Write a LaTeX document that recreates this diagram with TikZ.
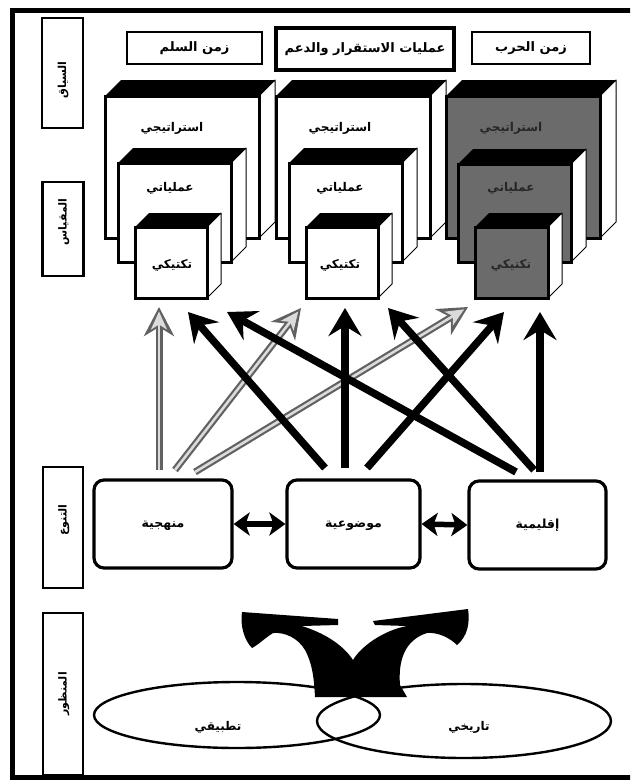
\documentclass[tikz,border=0pt]{standalone}
\usepackage{fontspec}
\usetikzlibrary{arrows.meta,shapes.geometric,calc}
\TeXXeTstate=1
\newfontfamily\arabicfont[Script=Arabic]{DejaVu Sans}
\newcommand\ar[1]{\arabicfont\bfseries\beginR #1\endR}
\newcommand\cubedraw[6]{%
  \fill[black] (#1,#2) -- (#3,#2) -- ([shift={(#5,-#5)}]#3,#2) -- ([shift={(#5,-#5)}]#1,#2) -- cycle;
  \draw[fill=white, line width=1pt, line join=round] (#3,#2) -- ([shift={(#5,-#5)}]#3,#2) -- ([shift={(#5,-#5)}]#3,#4) -- (#3,#4) -- cycle;
  \draw[fill=#6, line width=3pt] (#1,#2) rectangle (#3,#4);
}
\tikzset{
  sidebox/.style={draw, line width=2.8pt, inner sep=0pt},
  headbox/.style={draw, line width=2.8pt, inner sep=0pt, text height=7pt, text depth=0pt, font=\fontsize{13}{15}\selectfont},
  cubetext/.style={font=\fontsize{12}{14}\selectfont, text height=7pt, text depth=0pt, inner sep=0pt},
  midbox/.style={draw, line width=3.2pt, rounded corners=10pt, inner sep=0pt, text height=7pt, text depth=0pt, font=\fontsize{12.5}{14}\selectfont},
  blackarrow/.style={line width=7.5pt, -{Stealth[length=28pt,width=33pt,inset=10pt]}},
  grayouter/.style={line width=7pt, black!62, -{Stealth[length=29pt,width=30pt,inset=9pt]}},
  grayinner/.style={line width=2.6pt, gray!28, shorten >=4.5pt, -{Stealth[length=18pt,width=16pt,inset=5pt]}},
  dblarrow/.style={line width=5.5pt, {Stealth[length=16pt,width=23pt,inset=4pt]}-{Stealth[length=16pt,width=23pt,inset=4pt]}},
  ell/.style={ellipse, draw, line width=2.4pt, inner sep=0pt},
  lbl/.style={font=\fontsize{11}{13}\selectfont, text height=7pt, text depth=0pt, inner sep=0pt, rotate=90},
}
\begin{document}
\begin{tikzpicture}[x=1pt, y=-1pt]
\useasboundingbox (0,0) rectangle (630,782);
\clip (0,0) rectangle (630,782);
\fill[white] (0,0) rectangle (630,782);
% frame
\draw[line width=5pt] (12,10) rectangle (640,777);

% side label boxes
\node[sidebox, minimum width=41pt, minimum height=110pt] (s1) at (62.5,73) {};
\node[lbl] (s1t) at (62.5,80) {\ar{السياق}};
\node[sidebox, minimum width=41pt, minimum height=94pt] (s2) at (63,229) {};
\node[lbl] (s2t) at (63,222) {\ar{المقياس}};
\node[sidebox, minimum width=40pt, minimum height=121pt] (s3) at (63,527.5) {};
\node[lbl] (s3t) at (63,520) {\ar{التنوع}};
\node[sidebox, minimum width=40pt, minimum height=162pt] (s4) at (63,694) {};
\node[lbl] (s4t) at (63,694) {\ar{المنظور}};

% header boxes
\node[headbox, minimum width=135pt, minimum height=32pt] (h1) at (194.5,48) {\ar{زمن السلم}};
\node[headbox, line width=3.6pt, minimum width=178pt, minimum height=42pt] (h2) at (365,49) {\ar{عمليات الاستقرار والدعم}};
\node[headbox, minimum width=118pt, minimum height=32pt] (h3) at (531,48) {\ar{زمن الحرب}};

% cubes column 1
\cubedraw{105}{96}{259}{238}{16}{white}
\node[cubetext] (c1a) at (172,128) {\ar{استراتيجي}};
\cubedraw{118}{163}{231}{262}{15}{white}
\node[cubetext] (c1b) at (170,188) {\ar{عملياتي}};
\cubedraw{135}{227}{207}{298}{14}{white}
\node[cubetext] (c1c) at (172,265) {\ar{تكتيكي}};
% cubes column 2
\cubedraw{276}{96}{430}{238}{16}{white}
\node[cubetext] (c2a) at (340,128) {\ar{استراتيجي}};
\cubedraw{289}{163}{402}{262}{15}{white}
\node[cubetext] (c2b) at (340,188) {\ar{عملياتي}};
\cubedraw{306}{227}{378}{298}{14}{white}
\node[cubetext] (c2c) at (340,265) {\ar{تكتيكي}};
% cubes column 3
\cubedraw{446}{96}{600}{238}{16}{black!58}
\node[cubetext, text=black!85] (c3a) at (511,128) {\ar{استراتيجي}};
\cubedraw{458}{164}{571}{262}{15}{black!58}
\node[cubetext, text=black!85] (c3b) at (511,188) {\ar{عملياتي}};
\cubedraw{475}{227}{548}{298}{14}{black!58}
\node[cubetext, text=black!85] (c3c) at (511,265) {\ar{تكتيكي}};

% middle boxes
\node[midbox, minimum width=138pt, minimum height=88pt] (m1) at (163,524) {\ar{منهجية}};
\node[midbox, minimum width=133pt, minimum height=88pt] (m2) at (353.5,524) {\ar{موضوعية}};
\node[midbox, minimum width=137pt, minimum height=88pt] (m3) at (537.5,525) {\ar{إقليمية}};
\draw[dblarrow] (m1.east) -- (m2.west);
\draw[dblarrow] (m2.east) -- (m3.west);

% arrow end points
\coordinate (g1s) at (159,470); \coordinate (g1e) at (159,307);
\coordinate (b2s) at (325,468); \coordinate (b2e) at (188,312);
\coordinate (b3s) at (516,472); \coordinate (b3e) at (227,312);
\coordinate (g4s) at (175,470); \coordinate (g4e) at (301,308);
\coordinate (b5s) at (345,468); \coordinate (b5e) at (345,308);
\coordinate (b6s) at (534,470); \coordinate (b6e) at (388,308);
\coordinate (g7s) at (195,472); \coordinate (g7e) at (468,307);
\coordinate (b8s) at (367,468); \coordinate (b8e) at (504,312);
\coordinate (b9s) at (540,472); \coordinate (b9e) at (540,312);

\foreach \a in {g1,g4,g7}{
  \draw[grayouter] (\a s) -- (\a e);
  \draw[grayinner] (\a s) -- (\a e);
}
\foreach \a in {b2,b3,b5,b6,b8,b9}{
  \draw[blackarrow] (\a s) -- (\a e);
}

% ellipses
\node[ell, minimum width=286pt, minimum height=66pt] (e1) at (237,715) {};
\node[ell, minimum width=294pt, minimum height=74pt] (e2) at (464,721) {};
\node[cubetext] (e1t) at (218,727) {\ar{تطبيقي}};
\node[cubetext] (e2t) at (469,727) {\ar{تاريخي}};

% split arrow
\fill[black] (242,612) -- (338,619) -- (338,625) -- (302,626)
  .. controls (330,635) and (345,648) .. (353,660)
  .. controls (362,645) and (385,630) .. (407,626)
  -- (375,625) -- (373,621) -- (468,609)
  .. controls (470,622) and (468,636) .. (457,645)
  .. controls (450,638) and (438,632) .. (427,633)
  .. controls (405,640) and (398,660) .. (400,685)
  -- (407,697) -- (315,697)
  .. controls (314,680) and (313,665) .. (305,650)
  .. controls (298,638) and (285,632) .. (273,633)
  .. controls (265,638) and (258,645) .. (252,648)
  .. controls (244,640) and (240,625) .. (242,612) -- cycle;
\end{tikzpicture}
\end{document}
